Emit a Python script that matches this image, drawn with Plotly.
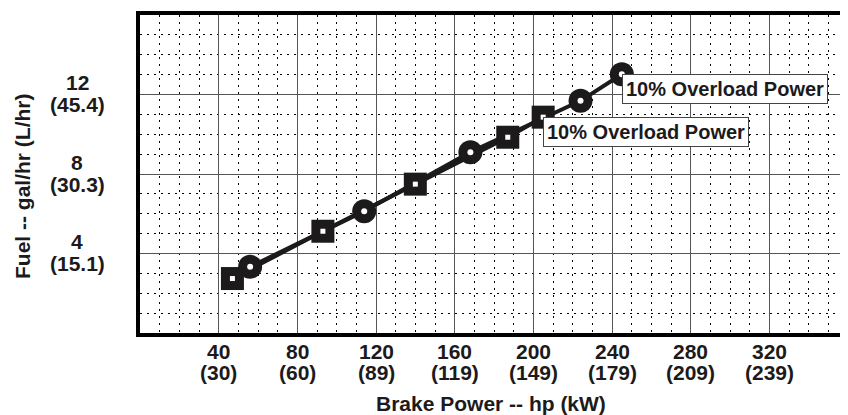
import plotly.graph_objects as go

# ---- data ----
square_hp = [47, 93, 140, 187, 205]
square_gal = [2.74, 5.12, 7.49, 9.85, 10.86]
circle_hp = [56, 114, 168, 224, 245]
circle_gal = [3.33, 6.13, 9.10, 11.68, 13.02]

x_tick_hp = [40, 80, 120, 160, 200, 240, 280, 320]
x_tick_kw = ["(30)", "(60)", "(89)", "(119)", "(149)", "(179)", "(209)", "(239)"]
y_tick_gal = [4, 8, 12]
y_tick_l = ["(15.1)", "(30.3)", "(45.4)"]

overload_label = "10% Overload Power"
x_title = "Brake Power -- hp (kW)"
y_title = "Fuel -- gal/hr (L/hr)"

INK = "#1c1a1b"
FONT = "Liberation Sans, Arial, sans-serif"


def f(size):
    return dict(size=size, color=INK, family=FONT, weight="bold")


fig = go.Figure()

# lines
fig.add_trace(go.Scatter(x=square_hp, y=square_gal, mode="lines",
                         line=dict(color=INK, width=4), hoverinfo="skip"))
fig.add_trace(go.Scatter(x=circle_hp, y=circle_gal, mode="lines",
                         line=dict(color=INK, width=4), hoverinfo="skip"))
# markers
fig.add_trace(go.Scatter(x=square_hp, y=square_gal, mode="markers",
                         marker=dict(symbol="square", size=23, color=INK)))
fig.add_trace(go.Scatter(x=square_hp, y=square_gal, mode="markers",
                         marker=dict(symbol="square", size=5, color="white")))
fig.add_trace(go.Scatter(x=circle_hp, y=circle_gal, mode="markers",
                         marker=dict(symbol="circle", size=24, color=INK)))
fig.add_trace(go.Scatter(x=circle_hp, y=circle_gal, mode="markers",
                         marker=dict(symbol="circle", size=6, color="white")))

annotations = []
# x tick labels (two lines each)
for hp, kw in zip(x_tick_hp, x_tick_kw):
    annotations.append(dict(x=hp, xref="x", y=0, yref="paper", text=str(hp),
                            showarrow=False, xanchor="center", yanchor="middle",
                            yshift=-18, font=f(21)))
    annotations.append(dict(x=hp, xref="x", y=0, yref="paper", text=kw,
                            showarrow=False, xanchor="center", yanchor="middle",
                            yshift=-39, font=f(21)))
# y tick labels
for g, l in zip(y_tick_gal, y_tick_l):
    annotations.append(dict(x=0, xref="paper", y=g, yref="y", text=str(g),
                            showarrow=False, xanchor="center", yanchor="middle",
                            xshift=-63, yshift=12, font=f(21)))
    annotations.append(dict(x=0, xref="paper", y=g, yref="y", text=l,
                            showarrow=False, xanchor="center", yanchor="middle",
                            xshift=-63, yshift=-10, font=f(21)))
# axis titles
annotations.append(dict(x=0.5, xref="paper", y=0, yref="paper", text=x_title,
                        showarrow=False, xanchor="center", yanchor="middle",
                        xshift=-3, yshift=-70, font=f(21)))
annotations.append(dict(x=0, xref="paper", y=0.5, yref="paper", text=y_title,
                        showarrow=False, xanchor="center", yanchor="middle", textangle=-90,
                        xshift=-118, yshift=-13, font=f(21)))
# overload boxes
annotations.append(dict(x=circle_hp[-1], y=circle_gal[-1], xref="x", yref="y",
                        text=overload_label, showarrow=False, xanchor="left", yanchor="top",
                        bgcolor="white", bordercolor="#444", borderwidth=1, borderpad=3,
                        font=f(20)))
annotations.append(dict(x=square_hp[-1], y=square_gal[-1], xref="x", yref="y",
                        text=overload_label, showarrow=False, xanchor="left", yanchor="top",
                        bgcolor="white", bordercolor="#444", borderwidth=1, borderpad=3,
                        font=f(20)))

# the page body adds an 8px margin, so the figure is 8px smaller and the
# margins are reduced accordingly
fig.update_layout(
    width=840, height=407,
    margin=dict(l=132, r=0, t=7, b=82),
    paper_bgcolor="white", plot_bgcolor="white",
    showlegend=False,
    font=dict(family=FONT, color=INK),
    annotations=annotations,
)
fig.update_xaxes(range=[0, 360], tick0=0, dtick=40, showticklabels=False, ticks="",
                 showgrid=True, gridcolor="#555", gridwidth=1, zeroline=False,
                 showline=True, linecolor="black", linewidth=4, mirror=True,
                 minor=dict(tick0=0, dtick=10, showgrid=True, gridcolor="black",
                            gridwidth=1, griddash="2px,5px"))
fig.update_yaxes(range=[0, 16], tick0=0, dtick=4, showticklabels=False, ticks="",
                 showgrid=True, gridcolor="#555", gridwidth=1, zeroline=False,
                 showline=True, linecolor="black", linewidth=4, mirror=False,
                 minor=dict(tick0=0, dtick=1, showgrid=True, gridcolor="black",
                            gridwidth=1, griddash="2px,5px"))

fig.write_html("out.html")
